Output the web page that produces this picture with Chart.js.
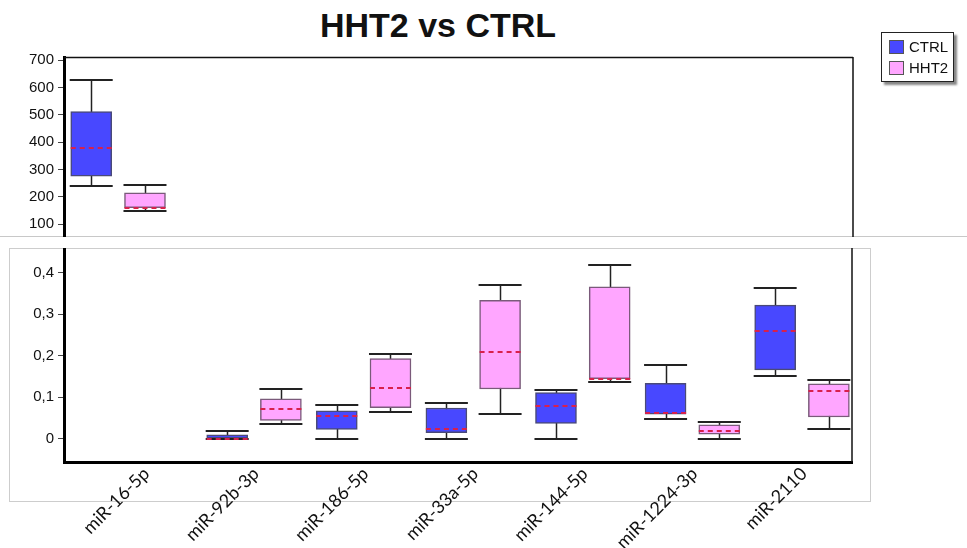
<!DOCTYPE html>
<html>
<head>
<meta charset="utf-8">
<script src="https://cdn.jsdelivr.net/npm/chart.js@4.4.1/dist/chart.umd.min.js"></script>
<style>
  body { margin: 0; background: #fff; width: 967px; height: 548px; position: relative; overflow: hidden; font-family: 'Liberation Sans', Arial, sans-serif; }
  #title { position: absolute; left: 238px; width: 400px; top: 6px; text-align: center; font-weight: bold; font-size: 34px; line-height: 38px; color: #111; }
  #cut { position: absolute; left: 0; top: 236px; width: 967px; height: 1px; background: #c8c8c8; }
  #lowerBox { position: absolute; left: 9px; top: 248px; width: 862px; height: 254px; box-sizing: border-box; border: 1px solid #cdcdcd; }
  canvas { position: absolute; left: 0; }
  #topChart { top: 0; }
  #bottomChart { top: 248px; }
  #legend { position: absolute; left: 881px; top: 32px; width: 73px; height: 50px; box-sizing: border-box; border: 1px solid #222; background: #fff; box-shadow: 3px 3px 2px #888; font-size: 15px; color: #111; }
  .item { position: absolute; left: 7px; height: 16px; line-height: 16px; }
  .sw { display: inline-block; width: 15px; height: 14px; box-sizing: border-box; border: 1px solid #555; vertical-align: top; margin-top: 1px; margin-right: 5px; }
</style>
</head>
<body>
<div id="title">HHT2 vs CTRL</div>
<div id="cut"></div>
<div id="lowerBox"></div>
<canvas id="topChart" width="967" height="237"></canvas>
<canvas id="bottomChart" width="967" height="300"></canvas>
<div id="legend">
  <div class="item" style="top:6px"><span class="sw" style="background:#4848ff"></span>CTRL</div>
  <div class="item" style="top:27px"><span class="sw" style="background:#ffa6ff"></span>HHT2</div>
</div>
<script>
const categories = ['miR-16-5p', 'miR-92b-3p', 'miR-186-5p', 'miR-33a-5p', 'miR-144-5p', 'miR-1224-3p', 'miR-2110'];

const ctrlMin = [240, 0, 0, 0, 0, 0.048, 0.152];
const ctrlQ1  = [276, 0, 0.0226, 0.0145, 0.037, 0.0595, 0.166];
const ctrlMed = [380, 0, 0.0554, 0.0234, 0.078, 0.0627, 0.26];
const ctrlQ3  = [512, 0.0096, 0.0675, 0.074, 0.111, 0.1335, 0.322];
const ctrlMax = [628, 0.019, 0.082, 0.086, 0.118, 0.1776, 0.363];

const hhtMin = [147.5, 0.0347, 0.0635, 0.06, 0.137, 0, 0.0226];
const hhtQ1  = [160.6, 0.0443, 0.0747, 0.1198, 0.1446, 0.0113, 0.0523];
const hhtMed = [158, 0.0708, 0.123, 0.208, 0.145, 0.0186, 0.115];
const hhtQ3  = [215, 0.0964, 0.193, 0.3335, 0.366, 0.0337, 0.1325];
const hhtMax = [243.5, 0.119, 0.204, 0.371, 0.419, 0.041, 0.1414];

const topTicks = [100, 200, 300, 400, 500, 600, 700];
const bottomTicks = [0, 0.1, 0.2, 0.3, 0.4];
const bottomTickLabels = ['0', '0,1', '0,2', '0,3', '0,4'];

const series = [
  { label: 'CTRL', off: -0.245, min: ctrlMin, q1: ctrlQ1, med: ctrlMed, q3: ctrlQ3, max: ctrlMax, fill: '#4848ff', edge: '#4a4a78' },
  { label: 'HHT2', off: 0.245, min: hhtMin, q1: hhtQ1, med: hhtMed, q3: hhtQ3, max: hhtMax, fill: '#ffa6ff', edge: '#7a5a7a' }
];

const BOX_W = 41;
const tickFont = { family: "'Liberation Sans', Arial, sans-serif", size: 15 };

function boxDatasets() {
  return series.map(s => ({
    label: s.label,
    data: categories.map((c, i) => ({ x: i + s.off, y: [s.q1[i], s.q3[i]] })),
    backgroundColor: s.fill,
    borderColor: s.edge,
    borderWidth: 1.5,
    borderSkipped: false,
    barThickness: BOX_W,
    grouped: false
  }));
}

// whiskers and medians, drawn through the chart's scales
const whiskerPlugin = {
  id: 'whiskers',
  beforeDatasetsDraw(chart) {
    const { ctx, chartArea: a, scales: { x, y } } = chart;
    ctx.save();
    ctx.beginPath();
    ctx.rect(a.left, a.top, a.right - a.left, a.bottom - a.top);
    ctx.clip();
    ctx.strokeStyle = '#222';
    ctx.lineWidth = 1.5;
    series.forEach(s => {
      categories.forEach((c, i) => {
        const px = Math.round(x.getPixelForValue(i + s.off)) + 0.5;
        ctx.beginPath();
        ctx.moveTo(px, y.getPixelForValue(s.min[i]));
        ctx.lineTo(px, y.getPixelForValue(s.max[i]));
        ctx.stroke();
      });
    });
    ctx.restore();
  },
  afterDatasetsDraw(chart) {
    const { ctx, chartArea: a, scales: { x, y } } = chart;
    ctx.save();
    ctx.beginPath();
    ctx.rect(a.left, a.top, a.right - a.left, a.bottom - a.top);
    ctx.clip();
    series.forEach(s => {
      categories.forEach((c, i) => {
        const px = x.getPixelForValue(i + s.off);
        ctx.strokeStyle = '#222';
        ctx.lineWidth = 2;
        ctx.setLineDash([]);
        [s.min[i], s.max[i]].forEach(v => {
          const py = Math.round(y.getPixelForValue(v));
          ctx.beginPath();
          ctx.moveTo(px - BOX_W / 2 - 1, py);
          ctx.lineTo(px + BOX_W / 2 + 1, py);
          ctx.stroke();
        });
        const my = Math.round(y.getPixelForValue(s.med[i]));
        ctx.strokeStyle = '#d8204c';
        ctx.lineWidth = 2;
        ctx.setLineDash([5, 4]);
        ctx.beginPath();
        ctx.moveTo(px - BOX_W / 2, my);
        ctx.lineTo(px + BOX_W / 2, my);
        ctx.stroke();
      });
    });
    ctx.restore();
  }
};

const framePlugin = {
  id: 'frame',
  afterDraw(chart, args, opts) {
    const { ctx, chartArea: a } = chart;
    ctx.save();
    ctx.strokeStyle = '#111';
    ctx.lineWidth = 1.5;
    ctx.beginPath();
    if (opts.top) {
      ctx.moveTo(a.left, a.top + 0.5);
      ctx.lineTo(a.right, a.top + 0.5);
    }
    ctx.moveTo(a.right, a.top);
    ctx.lineTo(a.right, a.bottom);
    ctx.stroke();
    ctx.restore();
  }
};

function yAxis(min, max, ticks, labels) {
  return {
    min: min,
    max: max,
    afterBuildTicks: s => { s.ticks = ticks.map(v => ({ value: v })); },
    afterFit: s => { s.width = 64; s.paddingTop = 0; s.paddingBottom = 0; },
    border: { width: 3, color: '#000' },
    grid: { drawOnChartArea: false, tickLength: 6, color: '#444' },
    ticks: {
      font: tickFont,
      color: '#111',
      padding: 4,
      callback: (v, i) => labels ? labels[i] : String(v)
    }
  };
}

new Chart(document.getElementById('topChart'), {
  type: 'bar',
  data: { datasets: boxDatasets() },
  options: {
    responsive: false,
    animation: false,
    layout: { padding: { top: 57, right: 114, bottom: 0, left: 0 } },
    plugins: { legend: { display: false }, tooltip: { enabled: false }, frame: { top: true } },
    scales: {
      x: { type: 'linear', min: -0.493, max: 6.697, offset: false, display: false },
      y: yAxis(53.6, 712, topTicks, null)
    }
  },
  plugins: [whiskerPlugin, framePlugin]
});

new Chart(document.getElementById('bottomChart'), {
  type: 'bar',
  data: { datasets: boxDatasets() },
  options: {
    responsive: false,
    animation: false,
    layout: { padding: { top: 0, right: 115, bottom: 0, left: 0 } },
    plugins: { legend: { display: false }, tooltip: { enabled: false }, frame: { top: false } },
    scales: {
      x: {
        type: 'linear',
        min: -0.734,
        max: 6.456,
        offset: false,
        afterBuildTicks: s => { s.ticks = categories.map((c, i) => ({ value: i })); },
        afterFit: s => { s.height = 86; s.paddingLeft = 0; s.paddingRight = 0; },
        border: { width: 3, color: '#000' },
        grid: { drawOnChartArea: false, drawTicks: false },
        ticks: {
          font: { family: 'Lato, sans-serif', size: 18 },
          color: '#111',
          minRotation: 45,
          maxRotation: 45,
          padding: 1,
          labelOffset: 2,
          callback: (v, i) => categories[i]
        }
      },
      y: yAxis(-0.056, 0.4595, bottomTicks, bottomTickLabels)
    }
  },
  plugins: [whiskerPlugin, framePlugin]
});
</script>
</body>
</html>
